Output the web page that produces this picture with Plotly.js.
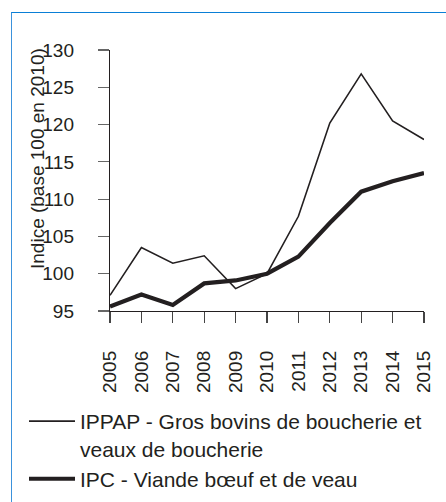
<!DOCTYPE html>
<html>
<head>
<meta charset="utf-8">
<script src="https://cdn.plot.ly/plotly-3.0.1.min.js"></script>
<style>
  html, body { margin: 0; padding: 0; background: #fff; }
  #wrap { position: relative; width: 446px; height: 502px; overflow: hidden; }
  #chart { position: absolute; left: 0; top: 0; width: 446px; height: 502px; }
  #frame { position: absolute; left: 11px; top: 12px; width: 440px; height: 500px;
           border-left: 1px solid #3b92dc; border-top: 1.5px solid #0a7fd6; pointer-events: none; }
</style>
</head>
<body>
<div id="wrap">
  <div id="chart"></div>
  <div id="frame"></div>
</div>
<script>
const years = [2005, 2006, 2007, 2008, 2009, 2010, 2011, 2012, 2013, 2014, 2015];
const ippap = [97.1, 103.5, 101.4, 102.4, 98.0, 100.0, 107.7, 120.2, 126.8, 120.5, 118.0];
const ipc = [95.6, 97.2, 95.8, 98.7, 99.1, 100.0, 102.3, 106.8, 111.0, 112.4, 113.5];
const yTicks = [95, 100, 105, 110, 115, 120, 125, 130];
const ippapName = "IPPAP - Gros bovins de boucherie et<br>veaux de boucherie";
const ipcName = "IPC - Viande bœuf et de veau";
const yTitle = "Indice (base 100 en 2010)";

const ink = "#231f20";
const fontFam = "Liberation Sans, Arial, sans-serif";

const traces = [
  { x: years, y: ippap, name: ippapName, type: "scatter", mode: "lines",
    line: { color: ink, width: 1.6 } },
  { x: years, y: ipc, name: ipcName, type: "scatter", mode: "lines",
    line: { color: ink, width: 4.2 } }
];

const layout = {
  width: 446, height: 502,
  margin: { l: 110, r: 22, t: 50, b: 191, autoexpand: false },
  paper_bgcolor: "rgba(0,0,0,0)",
  plot_bgcolor: "rgba(0,0,0,0)",
  font: { family: fontFam, color: ink, size: 19 },
  showlegend: true,
  legend: {
    xref: "container", yref: "container",
    x: 24 / 446, y: 1 - 401 / 502, xanchor: "left", yanchor: "top",
    font: { size: 21, color: ink, family: fontFam },
    valign: "top", tracegroupgap: 12, itemwidth: 46,
    bgcolor: "rgba(0,0,0,0)", borderwidth: 0
  },
  xaxis: {
    range: [2005, 2015], tickmode: "array", tickvals: years,
    ticktext: years.map(String), tickangle: -90,
    showgrid: false, zeroline: false, showline: true, linecolor: ink, linewidth: 1.2,
    ticks: "outside", ticklen: 11, tickwidth: 1.2, tickcolor: "#444",
    tickfont: { size: 19, color: ink }, ticklabelstandoff: 20
  },
  yaxis: {
    range: [95, 130], tickmode: "array", tickvals: yTicks,
    ticktext: yTicks.map(String),
    showgrid: false, zeroline: false, showline: true, linecolor: ink, linewidth: 1.2,
    ticks: "outside", ticklen: 11, tickwidth: 1.2, tickcolor: "#666",
    tickfont: { size: 19, color: ink }, ticklabelstandoff: 20
  },
  annotations: [{
    text: yTitle, xref: "paper", yref: "paper",
    x: (37 - 110) / 314, y: (311 - 159) / 261,
    xanchor: "center", yanchor: "middle", textangle: -90, showarrow: false,
    font: { size: 19, color: ink, family: fontFam }
  }]
};

Plotly.newPlot("chart", traces, layout, { displayModeBar: false, staticPlot: true });
</script>
</body>
</html>
